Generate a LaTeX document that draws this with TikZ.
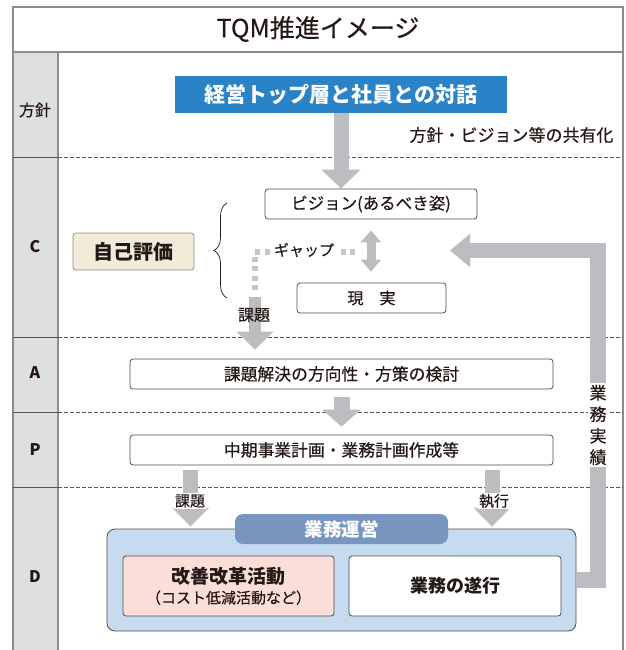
\documentclass[tikz,border=0pt]{standalone}
\usepackage{fontspec}
\setmainfont{Noto Sans CJK JP}
\newfontfamily\med{Noto Sans CJK JP}[FakeBold=0.5]
\usetikzlibrary{arrows.meta,decorations.pathreplacing}
\definecolor{framecol}{HTML}{8C8C8C}
\definecolor{colfill}{HTML}{DEDFE1}
\definecolor{arrowgray}{HTML}{BCBDC0}
\definecolor{dotgray}{HTML}{C5C6C8}
\definecolor{topblue}{HTML}{2A83C6}
\definecolor{tabblue}{HTML}{7795BF}
\definecolor{dfill}{HTML}{C6DBEF}
\definecolor{pinkfill}{HTML}{FCDED8}
\definecolor{beigefill}{HTML}{F3EBD9}
\definecolor{boxline}{HTML}{4D4D4D}
\definecolor{sepcol}{HTML}{555555}
\definecolor{ink}{HTML}{231815}
\newcommand\fsz[1]{\fontsize{#1}{#1}\selectfont}
\begin{document}
\begin{tikzpicture}[x=1pt,y=-1pt,
  box/.style={draw=boxline, line width=0.8pt, rounded corners=3pt, fill=white, inner sep=0pt, text=ink},
  bigarrow/.style={draw=arrowgray, line width=15pt, -{Triangle[width=38pt,length=19pt]}},
  sepline/.style={draw=sepcol, line width=0.6pt, dash pattern=on 3.5pt off 2.5pt},
  rowlab/.style={text=ink, font=\fsz{16}\bfseries},
  lab/.style={text=ink, inner sep=1pt}]
\useasboundingbox (0,0) rectangle (625,650);
\fill[white] (0,0) rectangle (625,650);
% frame
\fill[colfill] (13,52) rectangle (58,650);
\draw[framecol, line width=1.2pt] (13,7) rectangle (623,52);
\draw[framecol, line width=1.2pt] (13,52) -- (13,650);
\draw[framecol, line width=1.2pt] (58,52) -- (58,650);
\draw[framecol, line width=1.2pt] (623,52) -- (623,650);
\node[text=ink, font=\med\fsz{25}] (title) at (318,29) {TQM推進イメージ};
% separators
\foreach \yy in {157,337,412,487}{
  \draw[sepline] (58,\yy) -- (623,\yy);
  \draw[sepcol, line width=0.9pt] (13,\yy) -- (58,\yy);
}
% row labels
\node[text=ink, font=\med\fsz{16}] (lhoushin) at (35,110) {方針};
\node[rowlab] (lc) at (35,247) {C};
\node[rowlab] (la) at (35,373) {A};
\node[rowlab] (lp) at (35,450) {P};
\node[rowlab] (ld) at (35,577) {D};
% top box
\node[fill=topblue, minimum width=332pt, minimum height=37pt, inner sep=0pt, text=white, font=\fsz{21}\bfseries] (top) at (341,94.5) {経営トップ層と社員との対話};
\node[lab, font=\med\fsz{17}] (share) at (511.5,135) {方針・ビジョン等の共有化};
% C region
\node[box, minimum width=212pt, minimum height=30pt, font=\med\fsz{16.5}] (vis) at (371,204) {ビジョン(あるべき姿)};
\node[box, minimum width=149pt, minimum height=30pt, font=\med\fsz{16}] (real) at (371.5,298) {現\hspace{1em}実};
\node[box, fill=beigefill, draw=framecol, minimum width=121pt, minimum height=37pt, font=\fsz{20}\bfseries] (self) at (133.5,251.5) {自己評価};
\draw[ink, line width=0.7pt, decorate, decoration={brace, amplitude=13pt}] (227,298) -- (227,203);
% A and P
\node[box, minimum width=423pt, minimum height=30pt, font=\med\fsz{16.8}] (abox) at (341.5,374) {課題解決の方向性・方策の検討};
\node[box, minimum width=423pt, minimum height=30pt, font=\med\fsz{16.8}] (pbox) at (341.5,450) {中期事業計画・業務計画作成等};
% D region
\node[box, fill=dfill, rounded corners=8pt, minimum width=469pt, minimum height=102pt] (dout) at (341.5,580) {};
\node[fill=tabblue, rounded corners=8pt, minimum width=213pt, minimum height=30pt, inner sep=0pt, text=white, font=\fsz{18.5}\bfseries] (tab) at (341.5,529) {業務運営};
\node[box, fill=pinkfill, minimum width=211pt, minimum height=60pt, align=center] (kaizen) at (228.5,586) {{\fsz{19}\bfseries 改善改革活動}\\[4pt]{\med\fsz{15}（コスト低減活動など）}};
\node[box, minimum width=212pt, minimum height=60pt, font=\fsz{18}\bfseries] (gyomu) at (455,586) {業務の遂行};
% arrows
\draw[bigarrow] (top.south) -- (top.south |- vis.north);
\draw[bigarrow, line width=16pt, -{Triangle[width=38pt,length=17pt]}, shorten <=8pt, shorten >=8pt] (abox.south) -- (pbox.north);
\draw[draw=arrowgray, line width=9pt, {Triangle[width=20pt,length=12pt]}-{Triangle[width=20pt,length=12pt]}, shorten <=11pt, shorten >=11pt] (vis.south) -- (vis.south |- real.north);
% gap dotted path and issue arrow
\coordinate (gapend) at (355,252);
\coordinate (gapcorner) at (255,252);
\coordinate (gapdown) at (255,291);
\draw[dotgray, line width=5.5pt, dash pattern=on 5pt off 4.5pt] (gapend) -- (gapcorner) -- (gapdown);
\node[lab, fill=white, inner sep=2pt, font=\med\fsz{15}] (gap) at (304,250) {ギャップ};
\coordinate (issuetop) at (255,297);
\draw[draw=arrowgray, line width=12pt, -{Triangle[width=36pt,length=18pt]}, shorten >=9pt] (issuetop) -- (issuetop |- abox.north);
\node[lab, font=\med\fsz{16}] (issue1) at (254,315) {課題};
% P -> D arrows
\draw[bigarrow, -{Triangle[width=36pt,length=19pt]}, shorten <=5pt, shorten >=2pt] ([xshift=-151pt]pbox.south) -- ([xshift=-151pt]pbox.south |- dout.north);
\draw[bigarrow, -{Triangle[width=36pt,length=19pt]}, shorten <=5pt, shorten >=2pt] ([xshift=150.5pt]pbox.south) -- ([xshift=150.5pt]pbox.south |- dout.north);
\node[lab, fill=white, font=\med\fsz{15}] (issue2) at (190,501) {課題};
\node[lab, fill=white, font=\med\fsz{15}] (exec) at (494,501) {執行};
% feedback arrow
\coordinate (fbend) at (450,250.5);
\draw[draw=arrowgray, line width=15.5pt, line join=miter, -{Triangle[width=32pt,length=20pt]}] (dout.east) -- (598,580) -- (598,250.5) -- (fbend);
\node[lab, fill=white, inner sep=1.5pt, align=center, font=\med\fsz{17}, execute at begin node={\baselineskip=21.5pt}] (jisseki) at (598,425) {業\\務\\実\\績};
\end{tikzpicture}
\end{document}
